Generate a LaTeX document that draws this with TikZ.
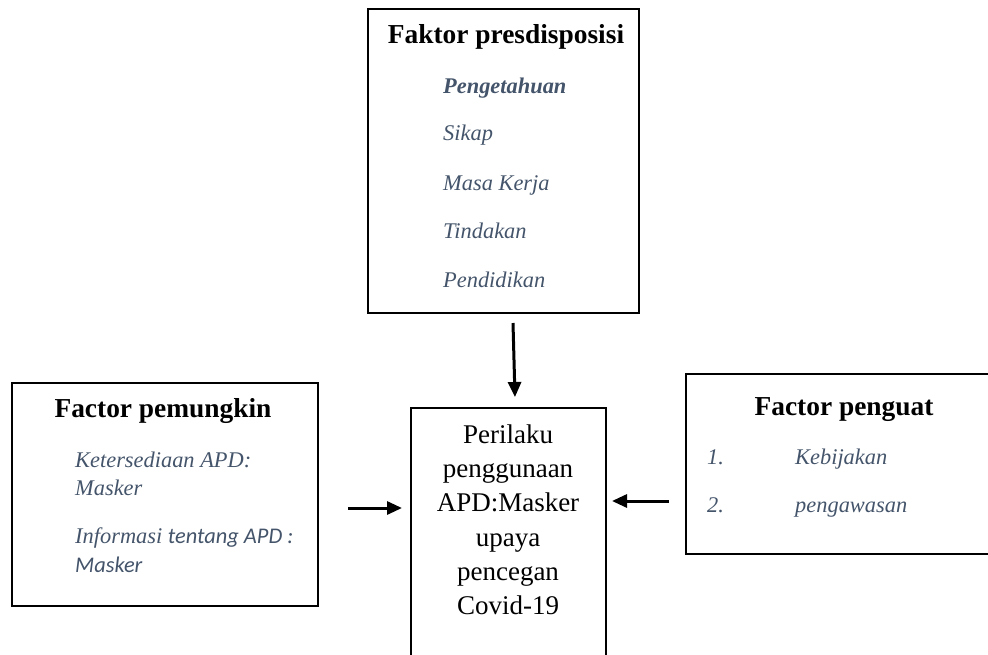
\documentclass[tikz,border=0pt]{standalone}
\usepackage{fontspec}
\setmainfont{Liberation Serif}
\newfontfamily\calibrifont{Carlito}
\usetikzlibrary{arrows.meta}
\definecolor{itemblue}{HTML}{44546A}
\begin{document}
\begin{tikzpicture}[x=1pt,y=-1pt,
  framebox/.style={draw=black, line width=2pt, inner sep=0pt, anchor=north west},
  heading/.style={font=\fontsize{27.4}{32}\selectfont\bfseries, anchor=base, inner sep=0pt},
  item/.style={font=\fontsize{22.4}{28}\selectfont\itshape, text=itemblue, anchor=base west, inner sep=0pt},
  body/.style={font=\fontsize{27}{34.4}\selectfont, anchor=base, inner sep=0pt},
  link/.style={line width=3pt, -{Triangle[length=15pt,width=13pt]}}
]
\useasboundingbox (0,0) rectangle (988,654);
\clip (0,0) rectangle (988,654);

% predisposing factors
\node[framebox, minimum width=271pt, minimum height=304pt] (pre) at (367,8) {};
\node[heading] (preT) at (506,43) {Faktor presdisposisi};
\node[item, font=\fontsize{22.4}{28}\selectfont\bfseries\itshape] (pre1) at (443,93) {Pengetahuan};
\node[item] (pre2) at (443,140) {Sikap};
\node[item] (pre3) at (443,190) {Masa Kerja};
\node[item] (pre4) at (443,238) {Tindakan};
\node[item] (pre5) at (443,287) {Pendidikan};

% enabling factors
\node[framebox, minimum width=306pt, minimum height=223pt] (ena) at (11,382) {};
\node[heading] (enaT) at (163,417) {Factor pemungkin};
\node[item] (ena1) at (75,467) {Ketersediaan APD:};
\node[item] (ena2) at (75,495) {Masker};
\node[item] (ena3) at (75,543) {Informasi {\calibrifont tentang APD :}};
\node[item] (ena4) at (75,572) {\calibrifont Masker};

% reinforcing factors
\node[framebox, minimum width=330pt, minimum height=180pt] (rei) at (685,373) {};
\node[heading] (reiT) at (844,415) {Factor penguat};
\node[item] (rei1n) at (707,464) {1.};
\node[item] (rei1) at (795,464) {Kebijakan};
\node[item] (rei2n) at (707,512) {2.};
\node[item] (rei2) at (795,512) {pengawasan};

% behaviour
\node[framebox, minimum width=195pt, minimum height=300pt] (beh) at (410,407) {};
\node[body] (beh1) at (508,443) {Perilaku};
\node[body] (beh2) at (508,477) {penggunaan};
\node[body] (beh3) at (508,511) {APD:Masker};
\node[body] (beh4) at (508,546) {upaya};
\node[body] (beh5) at (508,580) {pencegan};
\node[body] (beh6) at (508,614) {Covid-19};

% arrows
\coordinate (preOut) at (513,323);
\coordinate (behTop) at (515,397);
\coordinate (enaOut) at (348,508);
\coordinate (behLeft) at (402,508);
\coordinate (reiOut) at (669,501);
\coordinate (behRight) at (612,501);
\draw[link] (preOut) -- (behTop);
\draw[link] (enaOut) -- (behLeft);
\draw[link] (reiOut) -- (behRight);
\end{tikzpicture}
\end{document}
